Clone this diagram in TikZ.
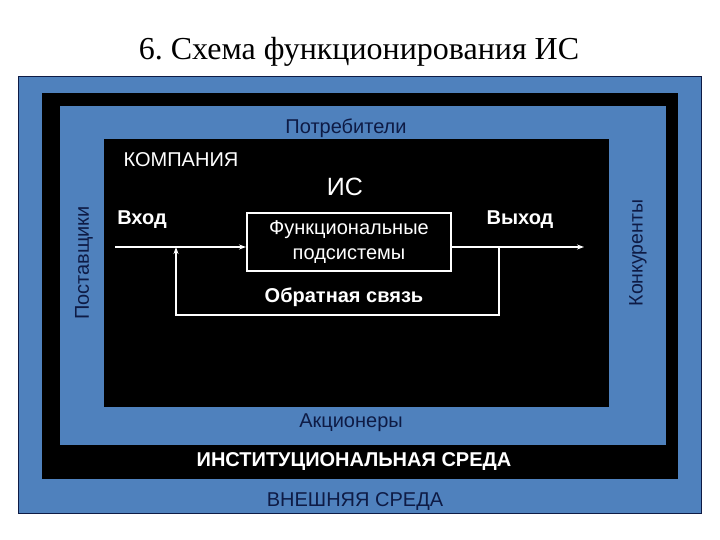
\documentclass[tikz,border=0pt]{standalone}
\usepackage{fontspec}
\setmainfont{Liberation Serif}
\setsansfont{Liberation Sans}
\usetikzlibrary{arrows.meta}
\definecolor{frameblue}{HTML}{4F81BD}
\definecolor{navytext}{HTML}{0E1B45}
\tikzset{
  lbl/.style={font=\sffamily\fontsize{20}{22}\selectfont, inner sep=0pt},
  darklbl/.style={lbl, text=navytext},
  whitelbl/.style={lbl, text=white},
  boldlbl/.style={whitelbl, font=\sffamily\bfseries\fontsize{20}{22}\selectfont},
  flow/.style={draw=white, line width=2pt},
  tip/.style={-{Stealth[length=7pt,width=5pt]}}
}
\begin{document}
\begin{tikzpicture}[x=1pt,y=-1pt]
  \useasboundingbox (0,0) rectangle (720,540);
  \node[font=\fontsize{32}{36}\selectfont, anchor=base, inner sep=0pt] (title) at (359,60) {6.\ Схема функционирования ИС};
  \filldraw[fill=frameblue, draw=navytext, line width=1pt] (18,77) rectangle (701,513);
  \fill[black] (42,93) rectangle (678,479);
  \fill[frameblue] (60,106) rectangle (666,445);
  \fill[black] (104,139) rectangle (609,407);
  \node[darklbl] (users) at (346,128) {Потребители};
  \node[darklbl, rotate=90] (suppliers) at (84,263) {Поставщики};
  \node[darklbl, rotate=90, font=\sffamily\fontsize{19.5}{22}\selectfont] (rivals) at (638,253) {Конкуренты};
  \node[darklbl] (holders) at (351,423) {Акционеры};
  \node[boldlbl] (inst) at (354,462) {ИНСТИТУЦИОНАЛЬНАЯ СРЕДА};
  \node[darklbl] (ext) at (355,502) {ВНЕШНЯЯ СРЕДА};
  \node[whitelbl] (company) at (181,160) {КОМПАНИЯ};
  \node[whitelbl, font=\sffamily\fontsize{25}{27}\selectfont] (is) at (345,187) {ИС};
  \node[draw=white, line width=2pt, minimum width=204pt, minimum height=58pt,
    align=center, text=white, font=\sffamily\fontsize{20}{25}\selectfont] (fsub) at (349,242)
    {Функциональные\\подсистемы};
  \node[boldlbl] (inlbl) at (142,220) {Вход};
  \node[boldlbl] (outlbl) at (520,220) {Выход};
  \node[boldlbl] (fblbl) at (344,297) {Обратная связь};
  \coordinate (in) at (115,247);
  \coordinate (out) at (584,247);
  \coordinate (split) at (499,247);
  \coordinate (join) at (176,247);
  \draw[flow, tip] (in) -- (in -| fsub.west);
  \draw[flow, tip] (out -| fsub.east) -- (out);
  \draw[flow, tip] (split) -- ++(0,68) -| (join);
\end{tikzpicture}
\end{document}
